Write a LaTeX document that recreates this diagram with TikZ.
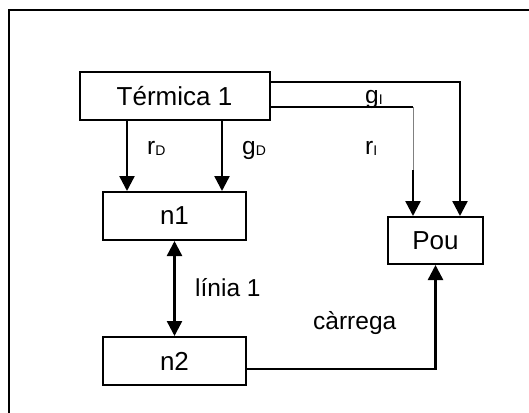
\documentclass[tikz,border=0pt]{standalone}
\usepackage{fontspec}
\setmainfont{Liberation Sans}
\usetikzlibrary{arrows.meta}

% small lowered index after a letter
\newcommand{\lowidx}[1]{\raisebox{-1.5pt}{\fontsize{14}{14}\selectfont #1}}

\begin{document}
\begin{tikzpicture}[x=1pt,y=-1pt,
  box/.style={draw,line width=2pt,minimum height=48pt,inner sep=0pt,
    font=\fontsize{26}{30}\selectfont},
  flow/.style={line width=2.4pt,-{Triangle[width=15pt,length=15pt]}},
  both/.style={line width=2.4pt,{Triangle[width=15pt,length=15pt]}-{Triangle[width=15pt,length=15pt]}},
  lbl/.style={anchor=base west,inner sep=0pt,font=\fontsize{24.5}{28}\selectfont}]
  % Parameters
  \def\dx{47.5}  % offset of the two feeds into n1

  \useasboundingbox (0,0) rectangle (529,412);
  \clip (0,0) rectangle (529,412);

  % Frame
  \draw[line width=2pt] (9,10) rectangle (560,440);

  % Blocks
  \node[box,minimum width=190pt] (term) at (174.5,96) {Térmica 1};
  \node[box,minimum width=143pt] (n1) at (174.5,216) {n1};
  \node[box,minimum width=143pt] (n2) at (174.5,361) {n2};
  \node[box,minimum width=95pt,minimum height=47pt] (pou) at (435.5,240.5) {Pou};

  % Feeds into n1
  \draw[flow] ([xshift=-\dx pt]term.south) -- ([xshift=-\dx pt]n1.north);
  \draw[flow] ([xshift=\dx pt]term.south) -- ([xshift=\dx pt]n1.north);

  % Feeds into Pou
  \draw[flow] ([yshift=14pt]term.east) -| ([xshift=24.5pt]pou.north);
  \coordinate (bend) at (413,107);
  \coordinate (split) at (413,170);
  \draw[line width=2.2pt] ([yshift=-11pt]term.east) -- (bend);
  \draw[gray,line width=0.9pt] (bend) -- (split);
  \draw[flow] (split) -- (split |- pou.north);

  % Line and load
  \draw[both] (n1.south) -- (n2.north);
  \draw[flow] ([yshift=-8pt]n2.east) -| (pou.south);

  % Labels
  \node[lbl] (rd) at (147,154) {r\lowidx{D}};
  \node[lbl] (gd) at (242,154) {g\lowidx{D}};
  \node[lbl] (gi) at (365,103) {g\lowidx{I}};
  \node[lbl] (ri) at (365,154) {r\lowidx{I}};
  \node[lbl] (linia) at (195,296) {línia 1};
  \node[lbl] (carrega) at (313,329) {càrrega};
\end{tikzpicture}
\end{document}
